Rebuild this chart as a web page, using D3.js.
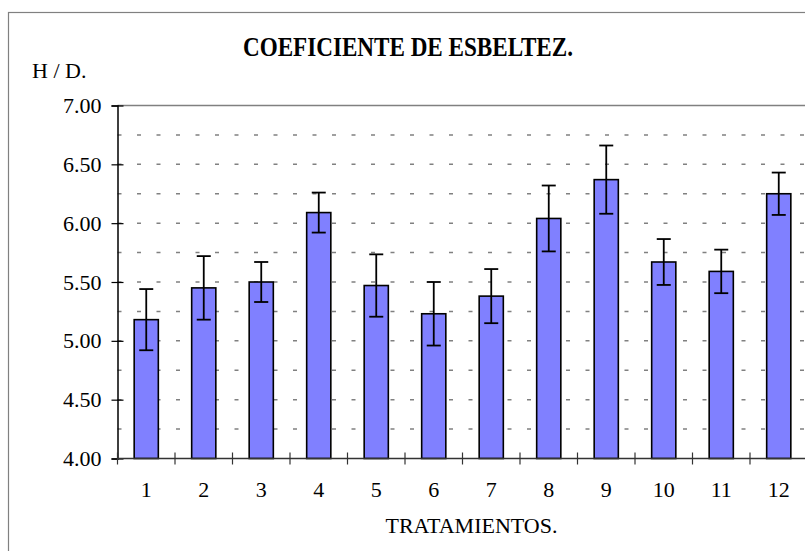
<!DOCTYPE html>
<html>
<head>
<meta charset="utf-8">
<script src="https://cdn.jsdelivr.net/npm/d3@7"></script>
</head>
<body style="margin:0; background:#fff">
<script>
// data
var tratamientos = ["1","2","3","4","5","6","7","8","9","10","11","12"];
var medias = [5.18, 5.45, 5.50, 6.09, 5.47, 5.23, 5.38, 6.04, 6.37, 5.67, 5.59, 6.25];
var errores = [0.26, 0.27, 0.17, 0.17, 0.265, 0.27, 0.23, 0.28, 0.29, 0.195, 0.185, 0.18];
var yTicks = [4.00, 4.50, 5.00, 5.50, 6.00, 6.50, 7.00];
var yGrid = [4.25, 4.50, 4.75, 5.00, 5.25, 5.50, 5.75, 6.00, 6.25, 6.50, 6.75];

var width = 805, height = 551;
var plotL = 117.5, plotR = 807.5, plotT = 105.5, plotB = 458.5;
var fuente = "'Liberation Serif'";

var svg = d3.select("body").append("svg")
            .attr("width", width)
            .attr("height", height);

// outer chart frame
svg.append("rect")
   .attr("x", 8.5).attr("y", 12.5)
   .attr("width", 900).attr("height", 700)
   .attr("fill", "none")
   .attr("stroke", "#808080")
   .attr("stroke-width", 1.2);

var x = d3.scaleBand()
          .domain(tratamientos)
          .range([plotL, plotR])
          .paddingInner(0.58)
          .paddingOuter(0.29);

var y = d3.scaleLinear()
          .domain([4, 7])
          .range([plotB, plotT]);

// dotted grid
svg.append("g").selectAll("line")
   .data(yGrid)
   .join("line")
   .attr("x1", plotL).attr("x2", plotR)
   .attr("y1", function(d) { return y(d); })
   .attr("y2", function(d) { return y(d); })
   .attr("stroke", "#808080")
   .attr("stroke-width", 1.5)
   .attr("stroke-dasharray", "4,15.5");

// top border of plot area
svg.append("line")
   .attr("x1", plotL).attr("x2", plotR)
   .attr("y1", y(7)).attr("y2", y(7))
   .attr("stroke", "#808080")
   .attr("stroke-width", 1.5);

// bars
svg.append("g").selectAll("rect")
   .data(medias)
   .join("rect")
   .attr("x", function(d, i) { return x(tratamientos[i]); })
   .attr("y", function(d) { return y(d); })
   .attr("width", x.bandwidth())
   .attr("height", function(d) { return y(4) - y(d); })
   .attr("fill", "#8080ff")
   .attr("stroke", "#000")
   .attr("stroke-width", 1.6);

// error bars
var eb = svg.append("g").attr("stroke", "#000").attr("stroke-width", 1.8);
medias.forEach(function(m, i) {
  var cx = x(tratamientos[i]) + x.bandwidth() / 2;
  var hi = y(m + errores[i]), lo = y(m - errores[i]);
  eb.append("line").attr("x1", cx).attr("x2", cx).attr("y1", hi).attr("y2", lo);
  eb.append("line").attr("x1", cx - 7).attr("x2", cx + 7).attr("y1", hi).attr("y2", hi);
  eb.append("line").attr("x1", cx - 7).attr("x2", cx + 7).attr("y1", lo).attr("y2", lo);
});

// y axis
var yAxis = d3.axisLeft(y)
              .tickValues(yTicks)
              .tickFormat(d3.format(".2f"))
              .tickSize(6)
              .tickPadding(10);
var gy = svg.append("g").attr("transform", "translate(" + plotL + ",0)").call(yAxis);
gy.attr("font-family", null).attr("font-size", null);
gy.select(".domain").attr("stroke", "#000").attr("stroke-width", 1.5);
gy.selectAll(".tick line").attr("x2", -6).attr("x1", 6).attr("stroke", "#000").attr("stroke-width", 1.2);
gy.selectAll(".tick text")
  .style("font-family", fuente)
  .style("font-size", "22px")
  .attr("fill", "#000");

// x axis line and ticks at category boundaries
svg.append("line")
   .attr("x1", plotL).attr("x2", plotR)
   .attr("y1", plotB).attr("y2", plotB)
   .attr("stroke", "#333").attr("stroke-width", 1.5);

var bounds = tratamientos.map(function(t) { return x(t) - x.step() * x.paddingInner() / 2; });
bounds.push(plotR);
svg.append("g").selectAll("line")
   .data(bounds)
   .join("line")
   .attr("x1", function(d) { return d; }).attr("x2", function(d) { return d; })
   .attr("y1", plotB - 6).attr("y2", plotB + 6)
   .attr("stroke", "#333").attr("stroke-width", 1.2);

svg.append("g").selectAll("text")
   .data(tratamientos)
   .join("text")
   .attr("x", function(d) { return x(d) + x.bandwidth() / 2; })
   .attr("y", plotB + 38)
   .attr("text-anchor", "middle")
   .style("font-family", fuente)
   .style("font-size", "22px")
   .text(function(d) { return d; });

// titles
svg.append("text")
   .attr("x", 243).attr("y", 56)
   .style("font-family", fuente)
   .style("font-size", "27px")
   .style("font-weight", "bold")
   .attr("textLength", 330)
   .attr("lengthAdjust", "spacingAndGlyphs")
   .text("COEFICIENTE DE ESBELTEZ.");

svg.append("text")
   .attr("x", 32).attr("y", 78)
   .style("font-family", fuente)
   .style("font-size", "22px")
   .text("H / D.");

svg.append("text")
   .attr("x", 471.5).attr("y", 533)
   .attr("text-anchor", "middle")
   .style("font-family", fuente)
   .style("font-size", "22px")
   .text("TRATAMIENTOS.");
</script>
</body>
</html>
